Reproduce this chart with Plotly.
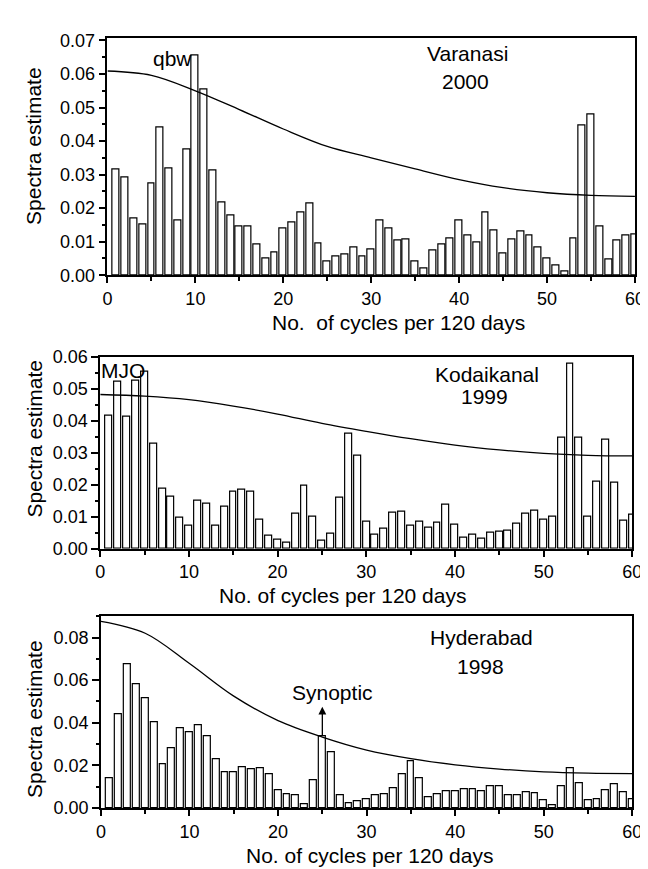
import plotly.graph_objects as go

# ---------------- data ----------------
cycles = list(range(1, 61))

varanasi_spectra = [0.0315, 0.0291, 0.0169, 0.0150, 0.0272, 0.0439, 0.0317, 0.0163, 0.0375, 0.0655,
                    0.0555, 0.0311, 0.0218, 0.0178, 0.0145, 0.0145, 0.0092, 0.0051, 0.0067, 0.0138,
                    0.0157, 0.0186, 0.0214, 0.0095, 0.0040, 0.0055, 0.0061, 0.0084, 0.0055, 0.0077,
                    0.0163, 0.0138, 0.0102, 0.0107, 0.0042, 0.0019, 0.0075, 0.0092, 0.0109, 0.0163,
                    0.0117, 0.0099, 0.0187, 0.0132, 0.0065, 0.0107, 0.0130, 0.0119, 0.0083, 0.0050,
                    0.0030, 0.0012, 0.0109, 0.0446, 0.0479, 0.0146, 0.0048, 0.0103, 0.0119, 0.0120]

kodaikanal_spectra = [0.0417, 0.0521, 0.0414, 0.0524, 0.0554, 0.0327, 0.0189, 0.0163, 0.0096, 0.0071,
                      0.0150, 0.0140, 0.0071, 0.0133, 0.0177, 0.0185, 0.0179, 0.0090, 0.0041, 0.0027,
                      0.0018, 0.0109, 0.0197, 0.0101, 0.0024, 0.0047, 0.0159, 0.0361, 0.0291, 0.0084,
                      0.0044, 0.0064, 0.0112, 0.0115, 0.0071, 0.0084, 0.0067, 0.0082, 0.0137, 0.0074,
                      0.0036, 0.0044, 0.0032, 0.0051, 0.0054, 0.0057, 0.0079, 0.0110, 0.0120, 0.0090,
                      0.0101, 0.0348, 0.0577, 0.0348, 0.0100, 0.0211, 0.0340, 0.0207, 0.0088, 0.0107]

hyderabad_spectra = [0.0142, 0.0440, 0.0677, 0.0580, 0.0514, 0.0401, 0.0205, 0.0280, 0.0373, 0.0358,
                     0.0388, 0.0338, 0.0229, 0.0170, 0.0170, 0.0194, 0.0182, 0.0185, 0.0161, 0.0083,
                     0.0063, 0.0061, 0.0020, 0.0130, 0.0336, 0.0261, 0.0060, 0.0024, 0.0032, 0.0044,
                     0.0060, 0.0066, 0.0092, 0.0157, 0.0222, 0.0142, 0.0050, 0.0067, 0.0078, 0.0080,
                     0.0089, 0.0089, 0.0080, 0.0104, 0.0104, 0.0060, 0.0060, 0.0075, 0.0070, 0.0038,
                     0.0012, 0.0101, 0.0185, 0.0115, 0.0037, 0.0040, 0.0084, 0.0112, 0.0075, 0.0041]

# red-noise continuum curves
curve_x = [0, 5, 10, 15, 20, 25, 30, 35, 40, 45, 50, 55, 60]
varanasi_curve = [0.0609, 0.0596, 0.0550, 0.0494, 0.0436, 0.0384, 0.0350, 0.0317, 0.0285, 0.0261, 0.0246, 0.0238, 0.0235]
kodaikanal_curve = [0.0482, 0.0477, 0.0466, 0.0446, 0.0421, 0.0392, 0.0367, 0.0344, 0.0324, 0.0309, 0.0298, 0.0292, 0.0290]
hyderabad_curve = [0.0876, 0.0820, 0.0678, 0.0525, 0.0410, 0.0333, 0.0272, 0.0232, 0.0203, 0.0183, 0.0170, 0.0164, 0.0162]

x_title = "No. of cycles per 120 days"
x_title_1 = "No.\u00a0 of cycles per 120 days"
y_title = "Spectra estimate"

FONT = "Liberation Sans, Arial, sans-serif"
W, H = 648, 869

panels = [
    dict(vals=varanasi_spectra, curve=varanasi_curve, yr=[0, 0.07087], dt=0.01, mdt=0.005,
         xd=[96.7, 636.7], yd=[20, 263.3]),
    dict(vals=kodaikanal_spectra, curve=kodaikanal_curve, yr=[0, 0.06], dt=0.01, mdt=0.005,
         xd=[89.3, 634], yd=[346.7, 543.3]),
    dict(vals=hyderabad_spectra, curve=hyderabad_curve, yr=[0, 0.09], dt=0.02, mdt=0.01,
         xd=[90, 634], yd=[612.3, 808.7]),
]

fig = go.Figure()
layout = dict(width=W, height=H, autosize=False, margin=dict(l=0, r=0, t=0, b=0),
              paper_bgcolor="white", plot_bgcolor="white", showlegend=False,
              font=dict(family=FONT, color="black", size=18), bargap=0)

for i, p in enumerate(panels, start=1):
    xa = "x" if i == 1 else f"x{i}"
    ya = "y" if i == 1 else f"y{i}"
    fig.add_trace(go.Bar(x=cycles, y=p["vals"], width=0.78, xaxis=xa, yaxis=ya,
                         marker=dict(color="white", line=dict(color="black", width=1.2))))
    fig.add_trace(go.Scatter(x=curve_x, y=p["curve"], mode="lines", xaxis=xa, yaxis=ya,
                             line=dict(color="black", width=1.3, shape="spline", smoothing=1.0)))
    xkey = "xaxis" if i == 1 else f"xaxis{i}"
    ykey = "yaxis" if i == 1 else f"yaxis{i}"
    layout[xkey] = dict(domain=[p["xd"][0] / W, p["xd"][1] / W], anchor=ya, range=[0, 60],
                        tick0=0, dtick=10, ticks="outside", ticklen=6, tickwidth=1.5,
                        tickcolor="black", showline=True, linecolor="black", linewidth=1.7,
                        mirror=True, showgrid=False, zeroline=False,
                        tickfont=dict(size=18, family=FONT),
                        minor=dict(dtick=5, ticks="outside", ticklen=4, tickwidth=1.5,
                                   tickcolor="black", showgrid=False))
    layout[ykey] = dict(domain=[1 - p["yd"][1] / H, 1 - p["yd"][0] / H], anchor=xa,
                        range=p["yr"], tick0=0, dtick=p["dt"], tickformat=".2f",
                        ticks="outside", ticklen=7, tickwidth=1.5, tickcolor="black",
                        showline=True, linecolor="black", linewidth=1.7, mirror=True,
                        showgrid=False, zeroline=False, tickfont=dict(size=18, family=FONT),
                        minor=dict(dtick=p["mdt"], ticks="outside", ticklen=3.5, tickwidth=1.5,
                                   tickcolor="black", showgrid=False))

fig.update_layout(**layout)

ann = []
TF = dict(size=21, family=FONT, color="black")
# axis titles (paper pixel positions)
for (xc, yc, txt) in [(395, 312, x_title_1), (337, 591, x_title), (365, 857, x_title)]:
    ann.append(dict(x=xc / W, y=1 - yc / H, xref="paper", yref="paper", text=txt,
                    showarrow=False, font=TF, xanchor="center", yanchor="middle"))
for (xc, yc) in [(21, 131.5), (22, 430), (22, 717)]:
    ann.append(dict(x=xc / W, y=1 - yc / H, xref="paper", yref="paper", text=y_title,
                    showarrow=False, font=TF, textangle=-90, xanchor="center", yanchor="middle"))

# in-plot labels
labels = [
    ("x", "y", 7.4, 0.0646, "qbw"),
    ("x", "y", 41.0, 0.0660, "Varanasi"),
    ("x", "y", 40.7, 0.0578, "2000"),
    ("x2", "y2", 2.55, 0.0556, "MJO"),
    ("x2", "y2", 43.6, 0.0544, "Kodaikanal"),
    ("x2", "y2", 43.3, 0.0476, "1999"),
    ("x3", "y3", 43.0, 0.0800, "Hyderabad"),
    ("x3", "y3", 42.9, 0.0666, "1998"),
    ("x3", "y3", 26.1, 0.0544, "Synoptic"),
]
for xr, yr, xv, yv, t in labels:
    ann.append(dict(x=xv, y=yv, xref=xr, yref=yr, text=t, showarrow=False, font=TF,
                    xanchor="center", yanchor="middle"))

# Synoptic arrow
ann.append(dict(x=25, y=0.0475, xref="x3", yref="y3", ax=25, ay=hyderabad_spectra[24],
                axref="x3", ayref="y3", text="", showarrow=True, arrowhead=2,
                arrowsize=1.2, arrowwidth=1.3, arrowcolor="black"))

fig.update_layout(annotations=ann)
fig.write_html("out.html")
